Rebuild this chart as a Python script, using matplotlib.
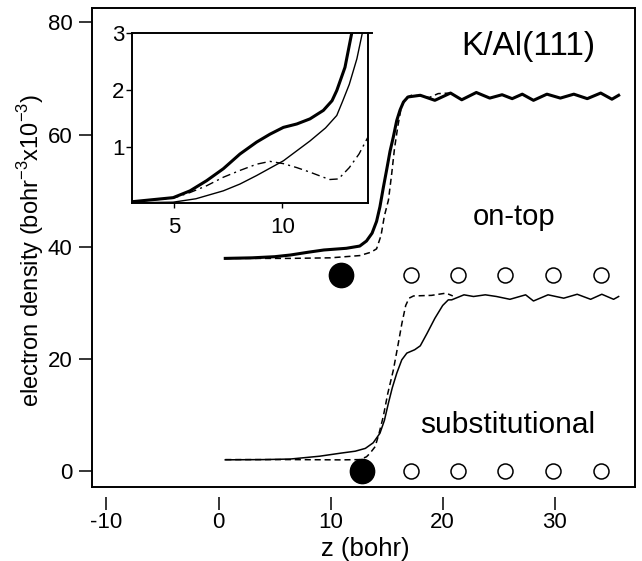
import numpy as np
import matplotlib.pyplot as plt

plt.rcParams['font.family'] = ['Liberation Sans', 'DejaVu Sans']
plt.rcParams['mathtext.fontset'] = 'custom'
plt.rcParams['mathtext.rm'] = 'Liberation Sans'
plt.rcParams['axes.unicode_minus'] = False

# on-top adsorption (upper curves, offset)
ontop_z = [0.6, 3.0, 5.0, 6.4, 8.0, 9.4, 11.4, 12.6, 13.2, 13.7, 14.1, 14.4, 14.7,
           15.0, 15.3, 15.6, 15.9, 16.2, 16.5, 16.9, 18.0, 19.3, 20.7, 21.7, 23.0,
           24.2, 25.3, 26.2, 27.1, 28.1, 29.3, 30.5, 31.7, 32.9, 34.1, 35.1, 35.7]
ontop_n = [37.9, 38.0, 38.2, 38.5, 39.0, 39.4, 39.7, 40.1, 41.0, 42.4, 44.5, 47.1, 50.5,
           53.7, 57.0, 59.6, 62.5, 64.4, 65.8, 66.7, 67.0, 66.1, 67.4, 66.2, 67.5,
           66.5, 67.1, 66.4, 67.2, 66.1, 67.2, 66.5, 67.2, 66.4, 67.4, 66.3, 67.0]
ontop_ref_z = [0.6, 6.4, 10.0, 12.6, 13.6, 14.1, 14.5, 14.8, 15.16, 15.45, 15.7, 16.0,
               16.3, 16.7, 17.2, 18.0, 18.8, 19.6, 20.7]
ontop_ref_n = [37.9, 37.9, 38.0, 38.4, 39.0, 39.6, 42.0, 45.5, 48.3, 53.0, 57.5, 61.5,
               64.8, 66.5, 67.0, 66.9, 66.6, 67.3, 67.4]

# substitutional adsorption (lower curves)
subst_z = [0.6, 4.0, 6.4, 9.0, 10.9, 12.2, 13.1, 13.8, 14.4, 14.8, 15.16, 15.5, 15.9,
           16.35, 16.8, 17.5, 18.0, 18.6, 19.3, 20.0, 20.5, 20.8, 21.9, 22.75, 23.8,
           24.8, 26.0, 27.4, 28.1, 29.4, 30.8, 32.0, 33.2, 34.2, 35.25, 35.7]
subst_n = [1.96, 2.0, 2.1, 2.6, 3.15, 3.5, 4.0, 5.0, 6.7, 9.0, 12.1, 14.8, 17.4,
           19.8, 21.0, 21.6, 22.3, 24.5, 27.2, 29.5, 30.5, 30.5, 31.4, 31.1, 31.4,
           31.1, 30.6, 31.4, 30.3, 31.4, 30.8, 31.5, 30.6, 31.5, 30.6, 31.1]
subst_ref_z = [0.6, 6.4, 10.9, 12.6, 13.2, 13.5, 13.97, 14.3, 14.7, 15.1, 15.6, 16.0,
               16.36, 16.7, 17.0, 17.4, 19.0, 20.3, 20.9]
subst_ref_n = [2.0, 2.0, 1.95, 2.0, 2.5, 3.1, 4.3, 6.5, 9.7, 13.8, 18.0, 22.3,
               26.3, 29.5, 30.8, 31.2, 31.3, 31.7, 31.2]

# atom positions
k_ontop = (10.9, 35)
k_subst = (12.8, 0)
al_z = [17.2, 21.4, 25.6, 29.8, 34.1]
row_y = [35, 0]

# inset: low-density tail of on-top case
ins_z = [3.1, 4.95, 5.73, 6.5, 7.27, 8.04, 8.81, 9.43, 10.05, 10.67, 11.28, 11.9,
         12.3, 12.52, 12.9, 13.21, 13.4]
ins_total = [0.03, 0.10, 0.22, 0.40, 0.61, 0.87, 1.08, 1.22, 1.34, 1.40, 1.49, 1.64,
             1.81, 1.99, 2.40, 3.0, 3.5]
ins_clean_z = [3.1, 4.95, 6.0, 7.27, 8.04, 8.81, 10.05, 11.28, 12.0, 12.52, 12.8,
               13.1, 13.45, 13.7, 13.85]
ins_clean = [0.01, 0.02, 0.08, 0.22, 0.34, 0.49, 0.75, 1.10, 1.33, 1.55, 1.81,
             2.10, 2.55, 3.0, 3.4]
ins_diff_z = [3.1, 4.95, 5.73, 6.5, 7.27, 8.04, 8.81, 9.43, 10.05, 10.67, 11.28,
              11.9, 12.2, 12.6, 13.1, 13.55, 13.95]
ins_diff = [0.03, 0.09, 0.19, 0.31, 0.46, 0.58, 0.69, 0.74, 0.70, 0.63, 0.55,
            0.46, 0.42, 0.43, 0.63, 0.87, 1.16]

fig = plt.figure(figsize=(6.42, 5.61), dpi=100)
ax = fig.add_axes([0.1428, 0.1314, 0.8463, 0.8538])

ax.plot(ontop_z, ontop_n, color='black', lw=2.2)
ax.plot(ontop_ref_z, ontop_ref_n, color='black', lw=1.1, ls=(0, (4, 2.5)))
ax.plot(subst_z, subst_n, color='black', lw=1.1)
ax.plot(subst_ref_z, subst_ref_n, color='black', lw=1.1, ls=(0, (4, 2.5)))

ax.plot([k_ontop[0]], [k_ontop[1]], 'o', color='black', ms=17.5)
ax.plot([k_subst[0]], [k_subst[1]], 'o', color='black', ms=17.5)
for y in row_y:
    ax.plot(al_z, [y] * len(al_z), 'o', mfc='white', mec='black', ms=10.8, mew=1.1)

ax.set_xlim(-11.32, 37.16)
ax.set_ylim(-2.94, 82.52)
ax.set_xticks([-10, 0, 10, 20, 30])
ax.set_yticks([0, 20, 40, 60, 80])
ax.tick_params(axis='y', direction='out', length=9.4, width=1.1, pad=4.5, labelsize=16)
ax.tick_params(axis='x', direction='out', length=9.4, width=1.1, pad=1.5, labelsize=16)
for s in ['left', 'top', 'right']:
    ax.spines[s].set_linewidth(1.4)
ax.spines['bottom'].set_position(('outward', 7))
ax.spines['bottom'].set_visible(False)
ax.plot([0, 1], [0, 0], transform=ax.transAxes, color='black', lw=1.4, clip_on=False)

fig.text(528 / 642, 1 - 55 / 561, 'K/Al(111)', fontsize=24, ha='center', va='baseline')
fig.text(514 / 642, 1 - 225 / 561, 'on-top', fontsize=21, ha='center', va='baseline')
fig.text(507.5 / 642, 1 - 433 / 561, 'substitutional', fontsize=21.5, ha='center', va='baseline')
fig.text(31 / 642, 1 - 250 / 561, r'electron density (bohr$^{-3}$x10$^{-3}$)',
         fontsize=17, rotation=90, ha='center', va='center')
fig.text(365 / 642, 1 - 556 / 561, 'z (bohr)', fontsize=18.5, ha='center', va='baseline')

# inset
ins = fig.add_axes([0.2051, 0.6376, 0.3676, 0.303])
ins.plot(ins_z, ins_total, color='black', lw=2.2)
ins.plot(ins_clean_z, ins_clean, color='black', lw=1.0)
ins.plot(ins_diff_z, ins_diff, color='black', lw=1.0, ls=(0, (6, 3, 1.5, 3)))
ins.set_xlim(3.03, 13.95)
ins.set_ylim(0, 3)
ins.set_xticks([5, 10])
ins.set_yticks([1, 2, 3])
ins.tick_params(axis='y', direction='out', length=4.3, width=1.0, pad=1, labelsize=16)
ins.tick_params(axis='x', direction='out', length=3.6, width=1.0, pad=6, labelsize=16)
for s in ins.spines.values():
    s.set_linewidth(1.4)
ins.plot([1, 1.017], [1, 1], transform=ins.transAxes, color='black', lw=1.4, clip_on=False)

fig.savefig('out.png', dpi=100)
